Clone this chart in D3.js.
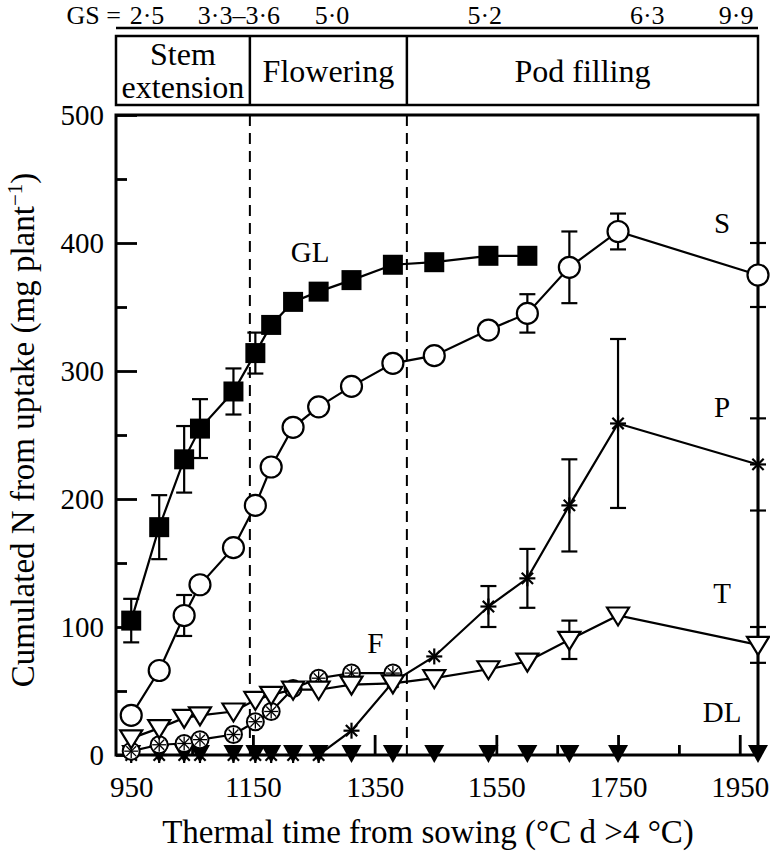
<!DOCTYPE html>
<html><head><meta charset="utf-8">
<script src="https://cdn.jsdelivr.net/npm/d3@7"></script>
<style>body{margin:0;background:#fff}svg{display:block}text{font-family:"Liberation Serif","Times New Roman",serif;fill:#000}</style>
</head><body><svg id="c" width="770" height="853"></svg>
<script>
// ---- data ----
const times = [950, 996, 1037, 1063, 1118, 1154, 1180, 1216, 1258, 1312, 1380, 1448, 1537, 1601, 1670, 1750, 1980];
const GL    = [105, 178, 231, 255, 284, 314, 336, 354, 362, 371, 383, 385, 390, 390];
const GLerr = [17, 25, 26, 23, 18, 16, 0, 0, 0, 0, 0, 0, 0, 0];
const S     = [31, 66, 109, 133, 162, 195, 225, 256, 272, 288, 306, 312, 332, 345, 381, 409, 375];
const Serr  = [0, 0, 16, 0, 0, 0, 0, 0, 0, 0, 0, 0, 0, 15, 28, 14, 25];
const P     = [0, 0, 0, 0, 0, 0, 0, 0, 0, 19, 57, 77, 116, 138, 195, 259, 227];
const Perr  = [0, 0, 0, 0, 0, 0, 0, 0, 0, 0, 0, 0, 16, 23, 36, 66, 36];
const T     = [13, 21, 29, 31, 34, 43, 47, 51, 51, 55, 56, 60, 67, 73, 90, 109, 86];
const Terr  = [0, 0, 0, 0, 0, 0, 0, 0, 0, 0, 0, 0, 0, 0, 15, 0, 14];
const F     = [3, 8, 9, 12, 16, 26, 34, 52, 60, 64, 64];
const DL    = [0, 0, 0, 0, 0, 0, 0, 0, 0, 0, 0, 0, 0, 0, 0, 0, 0];
const xMajor = [950, 1150, 1350, 1550, 1750, 1950];
const xMinor = [1050, 1250, 1450, 1650, 1850];
const yMajor = [0, 100, 200, 300, 400, 500];
const yMinor = [50, 150, 250, 350, 450];
const phases = [{name:["Stem","extension"], from:925, to:1145},{name:["Flowering"], from:1145, to:1403},{name:["Pod filling"], from:1403, to:1980}];
const phaseBounds = [1145, 1403];
const gsLabels = [["2·5",976],["3·3–3·6",1127],["5·0",1280],["5·2",1531],["6·3",1798],["9·9",1944]];
const seriesLabels = [["GL",1244,393],["S",1921,416],["P",1921,272],["T",1921,127],["DL",1921,34],["F",1351,88]];

// ---- chart ----
const svg = d3.select("#c");
const x = d3.scaleLinear().domain([925, 1980]).range([116, 758]);
const y = d3.scaleLinear().domain([0, 500]).range([755, 115]);

const mk = (arr) => arr.map((v,i)=>({t:times[i], v}));

// header
const hdr = svg.append("g");
hdr.append("line").attr("x1",x(925)).attr("x2",x(1980)).attr("y1",28).attr("y2",28).attr("stroke","#000").attr("stroke-width",2.5);
hdr.append("text").attr("x",121).attr("y",24).attr("text-anchor","end").attr("font-size",26).text("GS =");
gsLabels.forEach(([s,t])=>hdr.append("text").attr("x",x(t)).attr("y",24).attr("text-anchor","middle").attr("font-size",26).text(s));
hdr.append("rect").attr("x",x(925)).attr("y",36).attr("width",x(1980)-x(925)).attr("height",69).attr("fill","none").attr("stroke","#000").attr("stroke-width",2.5);
phaseBounds.forEach(b=>hdr.append("line").attr("x1",x(b)).attr("x2",x(b)).attr("y1",36).attr("y2",105).attr("stroke","#000").attr("stroke-width",2.5));
phases.forEach(p=>{
  const cx=(x(p.from)+x(p.to))/2;
  if(p.name.length===2){
    hdr.append("text").attr("x",cx).attr("y",65).attr("text-anchor","middle").attr("font-size",32).text(p.name[0]);
    hdr.append("text").attr("x",cx).attr("y",98).attr("text-anchor","middle").attr("font-size",32).text(p.name[1]);
  } else {
    hdr.append("text").attr("x",cx).attr("y",82).attr("text-anchor","middle").attr("font-size",32).text(p.name[0]);
  }
});

// dashed phase lines
phaseBounds.forEach(b=>svg.append("line").attr("x1",x(b)).attr("x2",x(b)).attr("y1",y(500)).attr("y2",y(0)).attr("stroke","#000").attr("stroke-width",2).attr("stroke-dasharray","11,7"));

// axes
const gx = svg.append("g").attr("transform","translate(0,755)");
gx.call(d3.axisBottom(x).tickValues(xMajor).tickSizeInner(-20).tickSizeOuter(0).tickPadding(42).tickFormat(d3.format("d")));
gx.append("g").call(d3.axisBottom(x).tickValues(xMinor).tickSizeInner(-10).tickSizeOuter(0).tickFormat(""));
const gy = svg.append("g").attr("transform","translate(116,0)");
gy.call(d3.axisLeft(y).tickValues(yMajor).tickSizeInner(-21).tickSizeOuter(0).tickPadding(12).tickFormat(d3.format("d")));
gy.append("g").call(d3.axisLeft(y).tickValues(yMinor).tickSizeInner(-11).tickSizeOuter(0).tickFormat(""));
svg.selectAll(".domain").remove();
svg.selectAll(".tick line").attr("stroke","#000").attr("stroke-width",2.8);
svg.selectAll(".tick text").attr("font-size",29).attr("font-family","Liberation Serif").attr("fill","#000");
gx.selectAll(".tick text").attr("dy","0");
svg.append("rect").attr("x",116).attr("y",115).attr("width",642).attr("height",640).attr("fill","none").attr("stroke","#000").attr("stroke-width",3);

// axis titles
svg.append("text").attr("x",428).attr("y",843).attr("text-anchor","middle").attr("font-size",33).text("Thermal time from sowing (°C d >4 °C)");
const yt = svg.append("text").attr("transform","translate(34,430) rotate(-90)").attr("text-anchor","middle").attr("font-size",33);
yt.append("tspan").text("Cumulated N from uptake (mg plant");
yt.append("tspan").attr("font-size",21).attr("dy",-12).text("−1");
yt.append("tspan").attr("dy",12).text(")");

const line = d3.line().x(d=>x(d.t)).y(d=>y(d.v));
const plot = svg.append("g");
function drawLine(arr){ plot.append("path").datum(mk(arr)).attr("d",line).attr("fill","none").attr("stroke","#000").attr("stroke-width",2.2); }
function drawErr(arr, err){
  mk(arr).forEach((d,i)=>{ const e=err[i]; if(!e) return;
    const g=plot.append("g").attr("stroke","#000").attr("stroke-width",2.2);
    g.append("line").attr("x1",x(d.t)).attr("x2",x(d.t)).attr("y1",y(d.v-e)).attr("y2",y(d.v+e));
    [d.v-e,d.v+e].forEach(v=>g.append("line").attr("x1",x(d.t)-8).attr("x2",x(d.t)+8).attr("y1",y(v)).attr("y2",y(v)));
  });
}
const triDown = "M-11,-8L11,-8L0,10Z";
// DL
drawLine(DL);
// P
drawErr(P,Perr); drawLine(P);
const pg = plot.append("g").selectAll("g").data(mk(P)).join("g").attr("transform",d=>`translate(${x(d.t)},${y(d.v)})`).attr("stroke","#000").attr("stroke-width",2.2);
[0,45,90,135].forEach(a=>pg.append("line").attr("x1",-8).attr("x2",8).attr("transform",`rotate(${a})`));
plot.append("g").selectAll("path").data(mk(DL)).join("path").attr("d","M-10,-10L10,-10L0,8Z").attr("transform",d=>`translate(${x(d.t)},${y(d.v)})`).attr("fill","#000");
// F
drawLine(F);
const fg = plot.append("g").selectAll("g").data(mk(F)).join("g").attr("transform",d=>`translate(${x(d.t)},${y(d.v)})`).attr("stroke","#000");
fg.append("circle").attr("r",8.5).attr("fill","#fff").attr("stroke-width",2);
[0,45,90,135].forEach(a=>fg.append("line").attr("x1",-7).attr("x2",7).attr("stroke-width",1.3).attr("transform",`rotate(${a})`));
// T
drawErr(T,Terr); drawLine(T);
plot.append("g").selectAll("path").data(mk(T)).join("path").attr("d",triDown).attr("transform",d=>`translate(${x(d.t)},${y(d.v)})`).attr("fill","#fff").attr("stroke","#000").attr("stroke-width",2.2);
// S
drawErr(S,Serr); drawLine(S);
plot.append("g").selectAll("circle").data(mk(S)).join("circle").attr("cx",d=>x(d.t)).attr("cy",d=>y(d.v)).attr("r",10.5).attr("fill","#fff").attr("stroke","#000").attr("stroke-width",2.2);
// GL
drawErr(GL,GLerr); drawLine(GL);
plot.append("g").selectAll("rect").data(mk(GL)).join("rect").attr("x",d=>x(d.t)-10).attr("y",d=>y(d.v)-10).attr("width",20).attr("height",20).attr("fill","#000");

// series labels
seriesLabels.forEach(([s,t,v])=>svg.append("text").attr("x",x(t)).attr("y",y(v)).attr("dy","0.35em").attr("text-anchor","middle").attr("font-size",29).text(s));
</script></body></html>
